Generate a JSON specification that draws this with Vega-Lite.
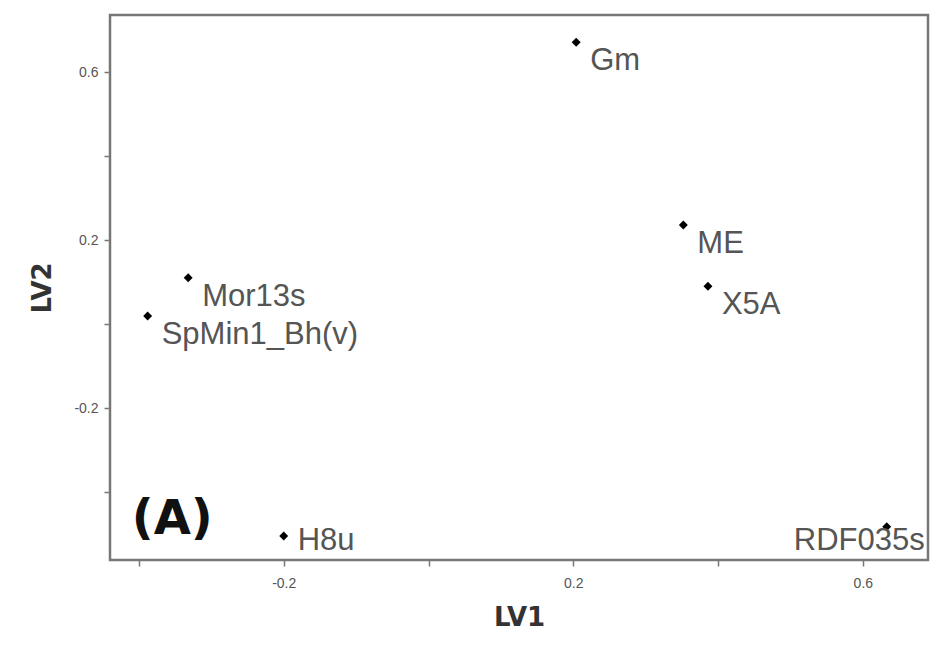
{
  "$schema": "https://vega.github.io/schema/vega-lite/v6.json",
  "width": 818,
  "height": 545,
  "autosize": {"type": "none"},
  "padding": {"left": 110, "top": 15, "right": 2, "bottom": 87},
  "background": "white",
  "config": {
    "view": {"stroke": "#777777", "strokeWidth": 2.5},
    "font": "Liberation Sans"
  },
  "data": {
    "values": [
      {"name": "Gm", "LV1": 0.204, "LV2": 0.671},
      {"name": "ME", "LV1": 0.352, "LV2": 0.236},
      {"name": "X5A", "LV1": 0.386, "LV2": 0.09},
      {"name": "Mor13s", "LV1": -0.332, "LV2": 0.11},
      {"name": "SpMin1_Bh(v)", "LV1": -0.388, "LV2": 0.019},
      {"name": "H8u", "LV1": -0.2, "LV2": -0.505},
      {"name": "RDF035s", "LV1": 0.633, "LV2": -0.483}
    ]
  },
  "encoding": {
    "x": {
      "field": "LV1", "type": "quantitative",
      "scale": {"domain": [-0.44, 0.69], "nice": false, "zero": false},
      "axis": {
        "title": "LV1", "titleFont": "DejaVu Sans", "titleFontSize": 26, "titleFontWeight": "bold",
        "titleColor": "#333333", "titlePadding": 14,
        "values": [-0.4, -0.2, 0, 0.2, 0.4, 0.6],
        "labelExpr": "abs(datum.value) == 0.2 || datum.value == 0.6 ? replace(format(datum.value, '.1f'), '\u2212', '-') : ''",
        "labelFontSize": 14, "labelColor": "#555555", "labelPadding": 10,
        "grid": false, "domain": false, "tickColor": "#777777", "tickSize": 6, "tickWidth": 1.5
      }
    },
    "y": {
      "field": "LV2", "type": "quantitative",
      "scale": {"domain": [-0.562, 0.736], "nice": false, "zero": false},
      "axis": {
        "title": "LV2", "titleFont": "DejaVu Sans", "titleFontSize": 26, "titleFontWeight": "bold",
        "titleColor": "#333333", "titlePadding": 18,
        "values": [-0.4, -0.2, 0, 0.2, 0.4, 0.6],
        "labelExpr": "abs(datum.value) == 0.2 || datum.value == 0.6 ? replace(format(datum.value, '.1f'), '\u2212', '-') : ''",
        "labelFontSize": 14, "labelColor": "#555555", "labelPadding": 6,
        "grid": false, "domain": false, "tickColor": "#777777", "tickSize": 6, "tickWidth": 1.5
      }
    }
  },
  "layer": [
    {
      "mark": {"type": "point", "shape": "diamond", "filled": true, "color": "black", "size": 80, "opacity": 1}
    },
    {
      "transform": [{"filter": "datum.name != 'H8u' && datum.name != 'RDF035s'"}],
      "mark": {"type": "text", "align": "left", "baseline": "middle", "dx": 14, "dy": 19, "fontSize": 31, "color": "#555555"},
      "encoding": {"text": {"field": "name"}}
    },
    {
      "transform": [{"filter": "datum.name == 'H8u'"}],
      "mark": {"type": "text", "align": "left", "baseline": "middle", "dx": 14, "dy": 5, "fontSize": 31, "color": "#555555"},
      "encoding": {"text": {"field": "name"}}
    },
    {
      "transform": [{"filter": "datum.name == 'RDF035s'"}],
      "mark": {"type": "text", "align": "right", "baseline": "middle", "dx": 38, "dy": 14, "fontSize": 31, "color": "#555555"},
      "encoding": {"text": {"field": "name"}}
    },
    {
      "data": {"values": [{"label": "(A)", "LV1": -0.354, "LV2": -0.467}]},
      "mark": {"type": "text", "align": "center", "baseline": "middle", "font": "DejaVu Sans", "fontSize": 48, "fontWeight": "bold", "color": "#111111"},
      "encoding": {"text": {"field": "label"}}
    }
  ]
}
